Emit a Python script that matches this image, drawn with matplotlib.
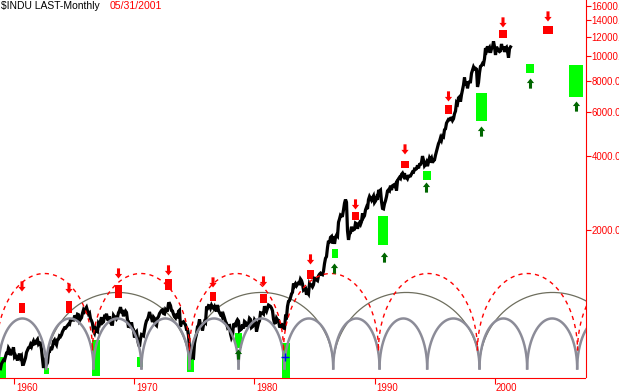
import numpy as np
import matplotlib
matplotlib.use("Agg")
import matplotlib.pyplot as plt
from matplotlib.transforms import ScaledTranslation

# ---------------- data ----------------
start_t = 1958 + 10 / 12.0          # Nov 1958, monthly closes follow
dow_close = [
    557.5, 583.7,
    594.0, 603.5, 601.7, 623.8, 643.8, 643.6, 674.9, 664.4, 631.7, 646.6, 659.2, 679.4,
    622.6, 630.1, 616.6, 601.7, 625.5, 640.6, 616.7, 626.0, 580.1, 580.4, 597.2, 615.9,
    648.2, 662.1, 676.6, 678.7, 696.7, 684.0, 705.4, 719.9, 701.2, 703.9, 721.6, 731.1,
    700.0, 708.1, 707.0, 665.3, 613.4, 561.3, 597.9, 609.2, 579.0, 589.8, 649.3, 652.1,
    682.9, 662.9, 682.5, 717.7, 727.0, 706.9, 695.4, 729.3, 732.8, 755.2, 750.5, 763.0,
    785.3, 800.1, 813.3, 810.8, 820.6, 831.5, 841.1, 838.5, 875.4, 873.1, 875.4, 874.1,
    902.9, 903.5, 889.1, 922.3, 918.0, 868.0, 881.7, 893.1, 930.6, 960.8, 946.7, 969.3,
    983.5, 951.9, 924.8, 933.7, 884.1, 870.1, 847.4, 788.4, 774.2, 807.1, 791.6, 785.7,
    849.9, 839.4, 866.0, 897.1, 852.6, 860.3, 904.2, 901.3, 926.7, 879.7, 875.8, 905.1,
    855.5, 840.5, 840.7, 912.2, 899.0, 897.8, 883.0, 896.0, 935.8, 952.4, 985.1, 943.8,
    946.1, 905.2, 935.5, 950.2, 937.6, 873.2, 815.5, 836.7, 813.1, 856.0, 812.3, 800.4,
    744.1, 777.6, 785.6, 736.1, 700.4, 683.5, 734.1, 764.6, 760.7, 755.6, 794.1, 838.9,
    868.5, 878.8, 904.4, 941.8, 907.8, 891.1, 858.4, 898.1, 887.2, 839.0, 831.3, 890.2,
    902.2, 928.1, 940.7, 954.2, 960.7, 929.0, 924.7, 963.7, 953.3, 955.5, 1018.2, 1020.0,
    999.0, 955.1, 951.0, 921.4, 901.4, 891.7, 926.4, 887.6, 947.1, 956.6, 822.3, 850.9,
    855.6, 860.5, 846.7, 836.8, 802.2, 802.4, 757.4, 678.6, 607.9, 665.5, 618.7, 616.2,
    703.7, 739.1, 768.2, 821.3, 832.3, 879.0, 831.5, 835.3, 793.9, 836.0, 860.7, 852.4,
    975.3, 972.6, 999.5, 996.9, 975.2, 1002.8, 984.6, 973.7, 990.2, 964.9, 947.2, 1004.7,
    954.4, 936.4, 919.1, 926.9, 898.7, 916.3, 890.1, 861.5, 847.1, 818.4, 829.7, 831.2,
    769.9, 742.1, 757.4, 837.3, 840.6, 819.0, 862.3, 876.8, 865.8, 792.5, 799.0, 805.0,
    839.2, 808.8, 862.2, 854.9, 822.3, 842.0, 846.4, 887.6, 878.6, 815.7, 822.4, 838.7,
    875.9, 863.1, 785.8, 817.1, 850.9, 867.9, 935.3, 932.6, 932.4, 924.5, 993.3, 964.0,
    947.3, 974.6, 1003.9, 997.8, 991.8, 976.9, 952.3, 881.5, 850.0, 852.6, 889.0, 875.0,
    871.1, 824.4, 822.8, 848.4, 819.5, 811.9, 808.6, 901.3, 896.3, 991.7, 1039.3, 1046.5,
    1075.7, 1112.2, 1130.0, 1226.2, 1200.0, 1222.0, 1199.2, 1216.2, 1233.1, 1225.2, 1276.0, 1258.6,
    1220.6, 1154.6, 1164.9, 1170.8, 1104.9, 1132.4, 1115.3, 1224.4, 1206.7, 1207.4, 1188.9, 1211.6,
    1286.8, 1284.0, 1266.8, 1258.1, 1315.4, 1335.5, 1347.5, 1334.0, 1328.6, 1374.3, 1472.1, 1546.7,
    1571.0, 1709.1, 1818.6, 1784.0, 1876.7, 1892.7, 1775.3, 1898.3, 1767.6, 1877.8, 1914.2, 1896.0,
    2158.0, 2224.0, 2304.7, 2286.4, 2291.6, 2418.5, 2572.1, 2663.0, 2596.3, 1993.5, 1833.6, 1938.8,
    1958.2, 2071.6, 1988.1, 2032.3, 2031.1, 2141.7, 2128.7, 2031.7, 2112.9, 2148.7, 2114.5, 2168.6,
    2342.3, 2258.4, 2293.6, 2418.8, 2480.2, 2440.1, 2660.7, 2737.3, 2692.8, 2645.1, 2706.3, 2753.2,
    2590.5, 2627.3, 2707.2, 2656.8, 2876.7, 2880.7, 2905.2, 2614.4, 2452.5, 2442.3, 2559.7, 2633.7,
    2736.4, 2882.2, 2913.9, 2887.9, 3027.5, 2906.8, 3024.8, 3043.6, 3016.8, 3069.1, 2894.7, 3168.8,
    3223.4, 3267.7, 3235.5, 3359.1, 3396.9, 3318.5, 3393.8, 3257.4, 3271.7, 3226.3, 3305.2, 3301.1,
    3310.0, 3370.8, 3435.1, 3427.6, 3527.4, 3516.1, 3539.5, 3651.3, 3555.1, 3680.6, 3684.0, 3754.1,
    3978.4, 3832.0, 3636.0, 3681.7, 3758.4, 3625.0, 3764.5, 3913.4, 3843.2, 3908.1, 3739.2, 3834.4,
    3843.9, 4011.1, 4157.7, 4321.3, 4465.1, 4556.1, 4708.5, 4610.6, 4789.1, 4755.5, 5074.5, 5117.1,
    5395.3, 5485.6, 5587.1, 5569.1, 5643.2, 5654.6, 5528.9, 5616.2, 5882.2, 6029.4, 6521.7, 6448.3,
    6813.1, 6877.7, 6583.5, 7009.0, 7331.0, 7672.8, 8222.6, 7622.4, 7945.3, 7442.1, 7823.1, 7908.3,
    7906.5, 8545.7, 8799.8, 9063.4, 8900.0, 8952.0, 8883.3, 7539.1, 7842.6, 8592.1, 9116.6, 9181.4,
    9358.8, 9306.6, 9786.2, 10789.0, 10559.7, 10970.8, 10655.2, 10829.3, 10337.0, 10729.9, 10877.8, 11497.1,
    10940.5, 10128.3, 10921.9, 10733.9, 10522.3, 10447.9, 10522.0, 11215.1, 10650.9, 10971.1, 10414.5, 10786.9,
    10887.4, 10495.3, 9878.8, 10735.0, 10911.9,
]

# cycle overlays (trough dates, arc base / top levels)
four_yr_troughs = [1958.67, 1962.64, 1966.58, 1970.58, 1974.58, 1978.67, 1982.50,
                   1986.56, 1990.42, 1994.39, 1998.75, 2002.72, 2006.89, 2010.90]
four_yr_base, four_yr_top = 559, 887
eight_yr_troughs = [1958.50, 1966.50, 1974.58, 1982.42, 1990.33, 1998.58, 2006.92, 2015.0]
eight_yr_base, eight_yr_top = 660, 1344
twelve_yr_troughs = [1962.64, 1974.58, 1986.56, 1998.75, 2010.90]
twelve_yr_base, twelve_yr_top = 564, 1128

# projected cycle-low zones (green)
green_t = [1958.98, 1962.667, 1966.792, 1970.458, 1974.667, 1978.667, 1982.625,
           1986.708, 1990.708, 1994.375, 1998.917, 2002.958, 2006.792]
green_top = [624, 559, 724, 624, 672, 772, 710, 1693, 2297, 3451, 7160, 9361, 9194]
green_bot = [500, 529, 519, 564, 543, 678, 500, 1558, 1757, 3175, 5477, 8614, 6838]
green_w_months = [8, 5, 8, 6, 7, 7, 8, 6, 10, 8, 11, 8, 14]
green_arrow_t = [1978.667, 1986.667, 1990.833, 1994.333, 1998.917, 2003.0, 2006.833]
green_arrow_tip = [666, 1474, 1632, 3117, 5230, 8150, 6590]

# projected cycle-high zones (red)
red_t = [1960.625, 1964.542, 1968.667, 1972.833, 1976.542, 1980.75, 1984.667,
         1988.417, 1992.542, 1996.167, 2000.708, 2004.458]
red_top = [1028, 1038, 1203, 1272, 1128, 1117, 1382, 2362, 3785, 6350, 12703, 13300]
red_bot = [929, 929, 1067, 1159, 1038, 1028, 1283, 2194, 3548, 5897, 11904, 12240]
red_w_months = [6, 6, 7, 7, 6, 7, 7, 7, 8, 7, 8, 10]
red_arrow_tip = [1138, 1117, 1283, 1320, 1181, 1192, 1461, 2429, 4039, 6590, 13060, 13800]

marker_t, marker_v = 1982.58, 624

x_ticks = [1960, 1970, 1980, 1990, 2000]
y_ticks = [2000, 4000, 6000, 8000, 10000, 12000, 14000, 16000]

# ---------------- plot ----------------
W, H = 619, 392
fig = plt.figure(figsize=(W / 100, H / 100), dpi=100, facecolor="white")
ax = fig.add_axes([0, 14.5 / H, 585.5 / W, 1 - 14.5 / H])
ax.set_facecolor("white")
ax.set_yscale("log")
ax.set_xlim(1958.792, 2007.583)
ax.set_ylim(514.0, 16836)

RED = "#ff0000"
GREEN = "#00ff00"
DKGREEN = "#006600"


def draw_arcs(troughs, base, top, **kw):
    th = np.linspace(0, np.pi, 400)
    for a, b in zip(troughs[:-1], troughs[1:]):
        c, half = (a + b) / 2, (b - a) / 2
        t = c - half * np.cos(th)
        v = np.exp(np.log(base) + (np.log(top) - np.log(base)) * np.sin(th))
        ax.plot(t, v, **kw)


draw_arcs(twelve_yr_troughs, twelve_yr_base, twelve_yr_top,
          color="#6e6e5e", lw=0.9, zorder=2)

ax.bar(green_t, np.array(green_top) - np.array(green_bot), bottom=green_bot,
       width=np.array(green_w_months) / 12.0, color=GREEN, lw=0, zorder=3)
ax.bar(red_t, np.array(red_top) - np.array(red_bot), bottom=red_bot,
       width=np.array(red_w_months) / 12.0, color=RED, lw=0, zorder=3)

t = start_t + np.arange(len(dow_close)) / 12.0
ax.plot(t, dow_close, color="black", lw=2.3, zorder=4, solid_joinstyle="miter")

draw_arcs(four_yr_troughs, four_yr_base, four_yr_top,
          color="#8c8c98", lw=1.8, zorder=5)
draw_arcs(eight_yr_troughs, eight_yr_base, eight_yr_top,
          color=RED, lw=1.0, ls=(0, (3, 3)), zorder=6)

arrow_kw = dict(width=2.2, headwidth=5.2, headlength=3.3)
for x, v in zip(red_t, red_arrow_tip):
    ax.annotate("", xy=(x, v), xytext=(0, 7.3), textcoords="offset points",
                arrowprops=dict(color=RED, lw=0, **arrow_kw), zorder=7)
for x, v in zip(green_arrow_t, green_arrow_tip):
    ax.annotate("", xy=(x, v), xytext=(0, -7.3), textcoords="offset points",
                arrowprops=dict(color=DKGREEN, lw=0, **arrow_kw), zorder=7)

ax.plot([marker_t], [marker_v], marker="+", color="#0000ff", ms=6, mew=1, zorder=7)

# axes styling
for s in ("left", "top"):
    ax.spines[s].set_visible(False)
for s in ("right", "bottom"):
    ax.spines[s].set_color(RED)
    ax.spines[s].set_linewidth(0.8)

ax.set_xticks(x_ticks)
ax.set_xticklabels([str(v) for v in x_ticks])
ax.yaxis.tick_right()
ax.set_yticks(y_ticks)
ax.set_yticklabels([f"{v:.2f}" for v in y_ticks])
ax.minorticks_off()
ax.tick_params(axis="x", direction="out", length=4.0, width=0.8, color=RED,
               labelcolor=RED, labelsize=6.9, pad=-0.3)
ax.tick_params(axis="y", direction="out", length=3.6, width=0.8, color=RED,
               labelcolor=RED, labelsize=6.9, pad=0.8)
off = ScaledTranslation(1.5 / 100, 0, fig.dpi_scale_trans)
for lab in ax.get_xticklabels():
    lab.set_ha("left")
    lab.set_transform(lab.get_transform() + off)
    lab.set_family("Liberation Sans")
for lab in ax.get_yticklabels():
    lab.set_family("Liberation Sans")

fig.text(1 / W, 1 - 1 / H, r"\$INDU LAST-Monthly", ha="left", va="top",
         fontsize=7.5, family="Liberation Sans", color="black")
fig.text(110 / W, 1 - 1 / H, "05/31/2001", ha="left", va="top",
         fontsize=7.6, family="Liberation Sans", color=RED)

fig.savefig("out.png", dpi=100, facecolor="white")
